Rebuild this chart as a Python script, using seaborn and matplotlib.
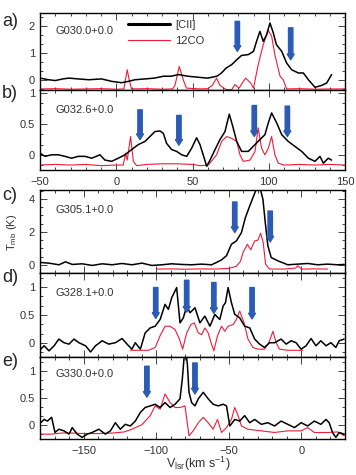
import matplotlib
matplotlib.use("Agg")
import matplotlib.pyplot as plt
import seaborn as sns
import pandas as pd
from matplotlib.ticker import MultipleLocator, AutoMinorLocator
from matplotlib.lines import Line2D

sns.set_style("ticks")
plt.rcParams["font.family"] = ["Liberation Sans", "DejaVu Sans"]
plt.rcParams["mathtext.fontset"] = "custom"
plt.rcParams["mathtext.rm"] = "Liberation Sans"

CII_COLOR = "black"
CO_COLOR = "#ee1c3a"
ARROW_COLOR = "#2b5bb5"
TEXT_COLOR = "#333333"

# ---------------- panel a) G030.0+0.0 ----------------
a_cii_v = [-50, -44.5, -40, -35, -31, -25, -18, -9.6, -3, 3.5, 8, 12.3, 18.8, 25, 31, 36, 40.7, 47, 54, 60,
           66, 69, 72, 75.7, 79, 82.2, 86.6, 90, 92, 94.2, 96.4, 98.6, 100.8, 103, 105, 108.5, 111.7, 115,
           119.4, 122.7, 126, 130.3, 134.7, 138, 141.2]
a_cii_t = [0.07, 0.01, -0.02, 0.04, 0.07, 0.04, 0.01, 0.04, -0.05, -0.1, -0.05, 0.01, 0.04, 0.07, 0.14, 0.14,
           0.2, 0.14, 0.1, 0.07, 0.14, 0.26, 0.44, 0.57, 0.75, 0.91, 0.94, 1.06, 1.43, 1.8, 1.43, 1.68, 2.11,
           1.74, 1.31, 1.06, 0.63, 0.38, 0.26, 0.26, 0.01, -0.27, -0.2, -0.11, 0.2]
a_co_v = [-50, -40, -30, -20, -10, 0, 5, 6, 7.2, 8.5, 10, 20, 30, 37, 38.5, 41.3, 44, 46, 55, 60, 63, 65.8,
          68, 72, 75.7, 77.8, 80.5, 84.8, 88, 90, 93.1, 96.4, 99.7, 101.9, 104, 107.4, 109.5, 111.7, 120,
          130, 140, 150]
a_co_t = [-0.33, -0.32, -0.34, -0.33, -0.32, -0.34, -0.33, 0.0, 0.38, 0.0, -0.33, -0.32, -0.34, -0.33, -0.2,
          0.5, 0.0, -0.3, -0.33, -0.32, -0.2, 0.07, -0.2, -0.35, -0.36, -0.17, -0.3, 0.07, -0.1, -0.3, 0.57,
          1.31, 1.83, 1.62, 0.94, 0.14, 0.01, -0.33, -0.32, -0.34, -0.33, -0.33]
a_arrow_v = [79.4, 114.4]
a_arrow_top = [2.17, 1.93]
a_arrow_bot = [1.06, 0.75]

# ---------------- panel b) G032.6+0.0 ----------------
b_cii_v = [-50, -46.7, -42.4, -38, -33.6, -29.3, -24.9, -20.5, -16.1, -10.7, -7.4, -3, 1.3, 5.7, 10.1, 14.5,
           18.8, 22.1, 25.4, 28.7, 30.9, 33, 36.3, 39.6, 42.9, 46.2, 49.4, 52.7, 54.9, 57, 59.3, 61.5, 64.8,
           68, 71.3, 74.1, 76.1, 79, 82.2, 86.6, 91, 94.2, 97.5, 99.7, 101.9, 105.2, 108.5, 112.8, 117.2,
           121.6, 126, 130.3, 133.6, 135.8, 139, 141.2]
b_cii_t = [0.03, -0.02, 0.005, 0.005, -0.02, -0.05, -0.02, -0.02, -0.05, 0.005, -0.08, -0.1, -0.05, 0.005,
           0.09, 0.17, 0.22, 0.3, 0.38, 0.39, 0.35, 0.19, 0.09, 0.06, 0.005, -0.02, 0.11, 0.28, 0.17, 0.005,
           -0.18, -0.08, 0.09, 0.25, 0.38, 0.66, 0.49, 0.22, 0.06, 0.06, 0.17, 0.25, 0.33, 0.52, 0.68, 0.52,
           0.33, 0.22, 0.14, 0.06, -0.05, -0.1, -0.02, -0.13, -0.05, -0.08]
b_co_v = [-50, -40, -30, -20, -10, 0, 4.6, 6.1, 7.2, 9.4, 11.2, 13.4, 20, 30, 40, 50, 55, 60.4, 65.8, 69.1,
          72.4, 75.7, 79, 81.1, 83.3, 87.7, 91, 93.1, 95.3, 97.5, 99.7, 101.9, 104, 106.3, 110, 120, 130,
          140, 150]
b_co_t = [-0.16, -0.15, -0.16, -0.15, -0.17, -0.16, -0.16, 0.03, -0.08, 0.3, -0.1, -0.17, -0.15, -0.14,
          -0.14, -0.15, -0.17, -0.16, 0.005, 0.22, 0.3, 0.27, 0.22, 0.005, -0.1, -0.08, 0.06, 0.44, 0.11,
          0.005, 0.11, 0.3, 0.005, -0.13, -0.16, -0.15, -0.16, -0.15, -0.16]
b_arrow_v = [15.6, 41.1, 90.5, 112.2]
b_arrow_top = [0.73, 0.64, 0.8, 0.79]
b_arrow_bot = [0.25, 0.16, 0.3, 0.3]

# ---------------- panel c) G305.1+0.0 ----------------
c_cii_v = [-179.5, -173.8, -167, -162.4, -157.8, -151, -144, -137.2, -130.4, -123.5, -116.7, -109.8, -103,
           -96.1, -89.3, -82.4, -75.6, -68.7, -61.9, -58.5, -55, -51.6, -48.2, -44.8, -41.3, -38.6, -35.6,
           -33.4, -31.1, -28.8, -26.5, -24.9, -23.1, -20.8, -16.2, -9.4, -2.5, 4.3, 11.2, 18, 24.9, 29.4]
c_cii_t = [0.14, 0.1, 0.0, 0.18, 0.02, 0.06, -0.04, 0.06, 0.0, 0.08, 0.0, 0.1, -0.04, 0.0, 0.06, 0.02, 0.0,
           0.04, 0.0, 0.14, 0.3, 0.55, 1.25, 1.45, 1.96, 2.87, 3.58, 4.08, 4.6, 4.8, 3.98, 2.57, 1.15, 0.44,
           0.24, 0.0, 0.04, 0.08, 0.0, 0.04, 0.0, 0.02]
c_co_v = [-99.6, -90, -80, -70, -60, -50, -45, -42, -40.2, -37.2, -34.9, -32.2, -30, -28.1, -26.3, -24.7,
          -22, -12, -4, -2.5, 0.1, 10, 18]
c_co_t = [-0.26, -0.25, -0.27, -0.25, -0.26, -0.22, -0.1, 0.2, 0.75, 1.25, 0.91, 1.45, 1.5, 1.92, 1.35, 0.04,
          -0.26, -0.26, -0.2, -0.06, -0.26, -0.25, -0.26]
c_arrow_v = [-45.9, -21.5]
c_arrow_top = [3.82, 3.27]
c_arrow_bot = [1.96, 1.39]

# ---------------- panel d) G328.1+0.0 ----------------
d_cii_v = [-179.5, -177.2, -173.8, -170.3, -167, -163.5, -160, -156.6, -153.2, -148.6, -145.2, -141.8,
           -137.2, -132.7, -128.1, -123.5, -120.1, -116.7, -114.4, -110.9, -107.6, -104.1, -100.7, -97.3,
           -93.9, -91.6, -89.3, -85.9, -83.6, -81.3, -79, -76.7, -73.3, -69.9, -66.5, -63, -59.6, -56.2,
           -53.9, -52.3, -50.5, -48.2, -45.9, -42.5, -39.1, -35.6, -32.2, -28.8, -25.4, -22, -18.5, -14,
           -10.5, -7.1, -3.7, -0.2, 3.2, 6.6, 10, 13.4, 16.9, 20.3, 23.7, 26, 29.4]
d_cii_t = [-0.11, -0.05, -0.14, -0.05, 0.07, 0.005, -0.02, 0.07, 0.005, -0.05, -0.16, -0.05, 0.04, -0.02,
           0.005, 0.08, -0.02, -0.11, 0.005, -0.11, 0.18, 0.27, 0.3, 0.42, 0.69, 0.6, 0.81, 0.99, 0.36,
           0.45, 0.66, 0.54, 0.63, 0.36, 0.48, 0.3, 0.51, 0.42, 0.66, 0.72, 0.99, 0.72, 0.51, 0.45, 0.3,
           0.27, 0.07, -0.02, -0.08, 0.005, 0.005, 0.07, -0.02, 0.04, 0.005, -0.11, -0.05, 0.08, -0.05,
           0.04, -0.05, 0.005, -0.08, 0.04, 0.07]
d_co_v = [-117.8, -110, -105.3, -100.7, -97.3, -93.9, -90.4, -87, -84, -81.8, -79, -76.1, -73.8, -71, -68.7,
          -66.5, -64.2, -61.9, -60.3, -57.8, -55, -52.8, -50.5, -47, -44.8, -42.5, -39.5, -36.8, -33.4, -30,
          -25.4, -22.4, -19.6, -17.4, -15.1, -9.4, 0.9]
d_co_t = [-0.13, -0.13, -0.13, -0.08, 0.13, 0.3, 0.3, 0.24, 0.07, -0.11, 0.18, 0.33, 0.36, 0.18, 0.15, 0.27,
          0.18, -0.02, -0.14, 0.13, 0.3, 0.21, 0.3, 0.33, 0.42, 0.57, 0.36, 0.07, -0.08, -0.11, -0.11, 0.005,
          0.21, 0.005, -0.11, -0.13, -0.13]
d_arrow_v = [-100.3, -79, -60.3, -34]
d_arrow_top = [0.99, 1.12, 1.08, 0.99]
d_arrow_bot = [0.44, 0.55, 0.53, 0.43]

# ---------------- panel e) G330.0+0.0 ----------------
e_cii_v = [-179.5, -177.2, -174.9, -172, -169.7, -167, -163.5, -160, -157.8, -154.4, -151, -147.5, -144.1,
           -139.5, -135, -131.5, -128.1, -124.7, -121.3, -117.8, -114.4, -110.9, -107.6, -104.1, -100.7,
           -97.3, -93.9, -90.4, -87, -83.6, -82, -80.6, -79.5, -78.5, -77.4, -75.6, -73.3, -71, -67.6, -64.2,
           -60.8, -57.3, -53.9, -51.6, -49.3, -45.9, -42.5, -39.1, -35.6, -32.2, -27.6, -23.1, -18.5, -14,
           -9.4, -4.8, -0.2, 4.3, 8.9, 13.4, 16.9, 19.1, 21.4, 23.7, 26, 29.4]
e_cii_t = [0.04, 0.1, 0.07, 0.14, -0.14, -0.08, -0.11, -0.17, -0.05, -0.17, -0.23, -0.17, -0.14, -0.08,
           -0.17, -0.11, 0.04, -0.08, 0.01, -0.02, 0.07, 0.23, 0.32, 0.35, 0.38, 0.32, 0.41, 0.32, 0.38,
           0.48, 0.85, 1.3, 1.35, 1.1, 0.6, 0.41, 0.35, 0.48, 0.6, 0.48, 0.38, 0.35, 0.38, 0.35, -0.02, 0.1,
           0.07, 0.17, 0.04, 0.1, 0.01, 0.04, -0.02, 0.07, 0.01, -0.05, 0.04, -0.02, 0.07, 0.01, 0.1, 0.04,
           -0.14, -0.23, -0.14, -0.17]
e_co_v = [-179.5, -172, -165, -158, -150, -140, -130, -122, -116.7, -109.8, -104.1, -100.7, -97.3, -93.9,
          -90.4, -87, -83.6, -80.2, -77.4, -74.5, -71, -67.6, -64.2, -60.8, -57.8, -55, -51.6, -48.2, -45.9,
          -43.6, -41.3, -36.8, -27.6, -18.5, -9.4, -0.2, 4.3, 8.9, 18, 24.9, 29.4]
e_co_t = [-0.17, -0.17, -0.15, -0.15, -0.16, -0.16, -0.15, -0.13, -0.08, 0.005, 0.17, 0.35, 0.29, 0.57,
          0.41, 0.32, 0.32, 0.35, -0.2, -0.11, 0.04, 0.14, 0.04, -0.08, 0.1, -0.14, -0.05, 0.1, 0.32, 0.17,
          -0.02, -0.08, -0.11, -0.14, -0.11, -0.11, -0.05, -0.14, -0.14, -0.13, -0.2]
e_arrow_v = [-106.4, -73.3]
e_arrow_top = [1.08, 1.14]
e_arrow_bot = [0.51, 0.57]

panels = [
    dict(tag="a)", name="G030.0+0.0", cii=(a_cii_v, a_cii_t), co=(a_co_v, a_co_t),
         arrows=(a_arrow_v, a_arrow_top, a_arrow_bot), xlim=(-50, 150), ylim=(-0.37, 2.48),
         yticks=[0, 1, 2], yminor=3, top=13, bottom=90, tag_y=22, name_y=0.77),
    dict(tag="b)", name="G032.6+0.0", cii=(b_cii_v, b_cii_t), co=(b_co_v, b_co_t),
         arrows=(b_arrow_v, b_arrow_top, b_arrow_bot), xlim=(-50, 150), ylim=(-0.24, 1.05),
         yticks=[0, 0.5, 1], yminor=3, top=90, bottom=170, tag_y=93, name_y=0.75),
    dict(tag="c)", name="G305.1+0.0", cii=(c_cii_v, c_cii_t), co=(c_co_v, c_co_t),
         arrows=(c_arrow_v, c_arrow_top, c_arrow_bot), xlim=(-180, 30), ylim=(-0.5, 4.55),
         yticks=[0, 2, 4], yminor=4, top=190, bottom=273, tag_y=196, name_y=0.76),
    dict(tag="d)", name="G328.1+0.0", cii=(d_cii_v, d_cii_t), co=(d_co_v, d_co_t),
         arrows=(d_arrow_v, d_arrow_top, d_arrow_bot), xlim=(-180, 30), ylim=(-0.25, 1.25),
         yticks=[0, 0.5, 1], yminor=3, top=273, bottom=357, tag_y=277, name_y=0.76),
    dict(tag="e)", name="G330.0+0.0", cii=(e_cii_v, e_cii_t), co=(e_co_v, e_co_t),
         arrows=(e_arrow_v, e_arrow_top, e_arrow_bot), xlim=(-180, 30), ylim=(-0.26, 1.25),
         yticks=[0, 0.5, 1], yminor=3, top=357, bottom=439, tag_y=362, name_y=0.79),
]

W, H = 356, 475
fig = plt.figure(figsize=(W / 100, H / 100), dpi=100)

for i, p in enumerate(panels):
    ax = fig.add_axes([40 / W, 1 - p["bottom"] / H, 305 / W, (p["bottom"] - p["top"]) / H])
    df_cii = pd.DataFrame({"v": p["cii"][0], "T": p["cii"][1]})
    df_co = pd.DataFrame({"v": p["co"][0], "T": p["co"][1]})
    sns.lineplot(data=df_co, x="v", y="T", color=CO_COLOR, lw=0.8, estimator=None, sort=False, ax=ax,
                 label="12CO")
    sns.lineplot(data=df_cii, x="v", y="T", color=CII_COLOR, lw=1.1, estimator=None, sort=False, ax=ax,
                 label="[CII]")

    for v, yt, yb in zip(*p["arrows"]):
        ax.annotate("", xy=(v, yb), xytext=(v, yt),
                    arrowprops=dict(arrowstyle="simple,head_length=0.45,head_width=0.55,tail_width=0.35",
                                    color=ARROW_COLOR, mutation_scale=9, shrinkA=0, shrinkB=0))

    ax.set_xlim(*p["xlim"])
    ax.set_ylim(*p["ylim"])
    ax.set_xlabel("")
    ax.set_ylabel("")
    ax.xaxis.set_major_locator(MultipleLocator(50))
    ax.xaxis.set_minor_locator(MultipleLocator(10))
    ax.set_yticks(p["yticks"])
    ax.set_yticklabels([f"{t:g}" for t in p["yticks"]])
    ax.yaxis.set_minor_locator(AutoMinorLocator(p["yminor"]))
    ax.tick_params(which="both", direction="in", top=True, right=True, labelsize=8, labelcolor=TEXT_COLOR,
                   width=0.7, color="#444444")
    ax.tick_params(which="major", length=5)
    ax.tick_params(which="minor", length=2.5)
    if i in (1, 4):
        ax.tick_params(axis="x", pad=5)
    else:
        ax.tick_params(axis="x", labelbottom=False)
    for s in ax.spines.values():
        s.set_linewidth(1.0)
        s.set_color("black")

    ax.text(0.05, p["name_y"], p["name"], transform=ax.transAxes, fontsize=8, color=TEXT_COLOR, va="center")
    fig.text(2 / W, 1 - p["tag_y"] / H, p["tag"], fontsize=13, va="center", ha="left")

    if i == 0:
        handles = [Line2D([], [], color=CII_COLOR, lw=2.2), Line2D([], [], color=CO_COLOR, lw=0.8)]
        ax.legend(handles, ["[CII]", "12CO"], loc="upper left", bbox_to_anchor=(0.255, 1.04), frameon=False,
                  fontsize=8, handlelength=3.8, handletextpad=0.5, labelspacing=0.55, labelcolor=TEXT_COLOR)
    else:
        ax.get_legend().remove()

fig.text(12 / W, 1 - 232 / H, r"T$_{\rm mb}$ (K)", rotation=90, fontsize=8, color=TEXT_COLOR,
         ha="center", va="center")
fig.text(198 / W, 1 - 464 / H, r"V$_{\rm lsr}$(km s$^{-1}$)", fontsize=9, color=TEXT_COLOR,
         ha="center", va="center")

fig.savefig("out.png", dpi=100)
